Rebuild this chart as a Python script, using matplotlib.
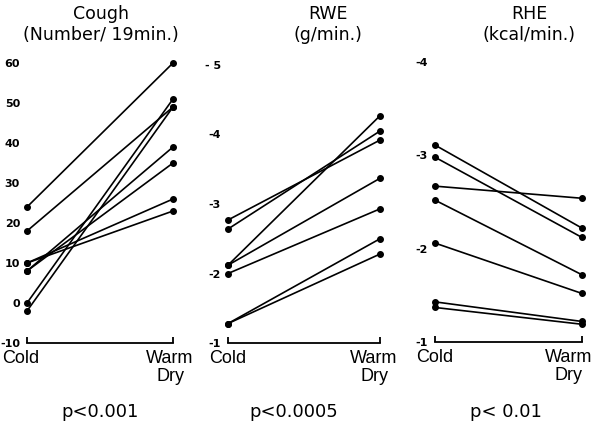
import matplotlib
matplotlib.use("Agg")
import matplotlib.pyplot as plt
import matplotlib.transforms as mtransforms

# values (one entry per subject)
conditions = ["Cold", "Warm\nDry"]

cough_cold = [24, 18, 0, -2, 10, 10, 8, 8]
cough_warm = [60, 49, 51, 49, 26, 23, 39, 35]
cough_ticks = [60, 50, 40, 30, 20, 10, 0, -10]
cough_ticklabels = ["60", "50", "40", "30", "20", "10", "0", "-10"]

rwe_cold = [-2.77, -2.64, -2.12, -2.12, -2.0, -1.28, -1.28]
rwe_warm = [-3.92, -4.05, -4.27, -3.37, -2.93, -2.50, -2.28]
rwe_ticks = [-5, -4, -3, -2, -1]
rwe_ticklabels = ["- 5", "-4", "-3", "-2", "-1"]

rhe_cold = [-3.11, -2.98, -2.67, -2.52, -2.06, -1.43, -1.37]
rhe_warm = [-2.22, -2.12, -2.54, -1.72, -1.52, -1.22, -1.19]
rhe_ticks = [-4, -3, -2, -1]
rhe_ticklabels = ["-4", "-3", "-2", "-1"]

titles = [("Cough", "(Number/ 19min.)"), ("RWE", "(g/min.)"), ("RHE", "(kcal/min.)")]
pvalues = ["p<0.001", "p<0.0005", "p< 0.01"]

W, H = 600, 425
fig = plt.figure(figsize=(6, 4.25), dpi=100)


def px_axes(x0, x1, ytop, ybot):
    return fig.add_axes([x0 / W, 1 - ybot / H, (x1 - x0) / W, (ybot - ytop) / H])


def nudge(label, dx_px):
    label.set_transform(label.get_transform() +
                        mtransforms.ScaledTranslation(dx_px / 100, 0, fig.dpi_scale_trans))


panels = [
    (px_axes(27, 173, 63, 343), cough_cold, cough_warm, (-10, 60), cough_ticks, cough_ticklabels),
    (px_axes(228, 380, 65, 343), rwe_cold, rwe_warm, (-1, -5), rwe_ticks, rwe_ticklabels),
    (px_axes(435, 582, 62, 342), rhe_cold, rhe_warm, (-1, -4), rhe_ticks, rhe_ticklabels),
]
# horizontal shifts (px) of the Cold / Warm labels, as in the original
label_shift = [(-6, -3), (0, -6), (0, -13)]

for (ax, cold, warm, ylim, ticks, ticklabels), shift in zip(panels, label_shift):
    for c, w in zip(cold, warm):
        ax.plot([0, 1], [c, w], color="black", lw=1.2, marker="o", ms=4,
                clip_on=False, solid_capstyle="round")
    ax.set_xlim(0, 1)
    ax.set_ylim(*ylim)
    for s in ["top", "right", "left"]:
        ax.spines[s].set_visible(False)
    ax.spines["bottom"].set_linewidth(1.3)
    ax.set_xticks([0, 1])
    ax.set_xticklabels(conditions, fontsize=13, family="Liberation Sans", linespacing=1.05)
    ax.tick_params(axis="x", direction="in", length=4, width=1.3, pad=5)
    ax.set_yticks(ticks)
    ax.set_yticklabels(ticklabels, fontsize=8, fontweight="bold")
    ax.tick_params(axis="y", length=0, pad=5)
    for lab, dx in zip(ax.get_xticklabels(), shift):
        if dx:
            nudge(lab, dx)

# titles and p-values
title_x = [101, 328, 529]
p_x = [100, 294, 506]
for (t1, t2), tx, p, px in zip(titles, title_x, pvalues, p_x):
    fig.text(tx / W, 1 - 14 / H, t1, ha="center", va="center", fontsize=12.5)
    fig.text(tx / W, 1 - 35 / H, t2, ha="center", va="center", fontsize=12.5)
    fig.text(px / W, 1 - 412 / H, p, ha="center", va="center", fontsize=13)

fig.savefig("out.png", dpi=100, facecolor="white")
